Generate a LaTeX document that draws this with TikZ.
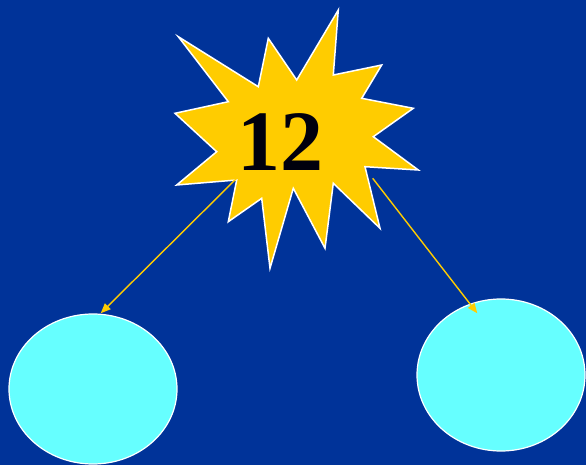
\documentclass[tikz,border=0pt]{standalone}
\usepackage{fontspec}
\setmainfont{Liberation Serif}
\usetikzlibrary{arrows.meta,shapes.geometric}
\definecolor{bgblue}{HTML}{003399}
\definecolor{staryellow}{HTML}{FFCC00}
\definecolor{cyanfill}{HTML}{66FFFF}
\tikzset{
  burst/.style={fill=staryellow,draw=white,line width=1.5pt,line join=miter},
  blob/.style={ellipse,fill=cyanfill,draw=white,line width=1.2pt,inner sep=0pt},
  link/.style={draw=staryellow,line width=1.4pt,-{Triangle[length=10pt,width=8pt]}}
}
\begin{document}
\begin{tikzpicture}[x=1pt,y=-1pt]
\useasboundingbox (0,0) rectangle (586,465);
\fill[bgblue] (0,0) rectangle (586,465);
\draw[burst] (338.3,10) -- (333.3,75) -- (381.7,65) -- (361.7,98.3) -- (413.3,108.3)
  -- (373.3,136.7) -- (418.3,170) -- (365,166.7) -- (380,228.3) -- (333.3,183.3)
  -- (325,248.3) -- (293.3,188.3) -- (270,268.3) -- (261.7,198.3) -- (228.3,221.7)
  -- (236.7,180) -- (176.7,185) -- (216.7,151.7) -- (175,113.3) -- (228.3,101.7)
  -- (178.3,36.7) -- (258.3,86.7) -- (268.3,38.3) -- (296.7,80) -- cycle;
\node[text=black!95!blue] (num) at (280.5,142) {\fontsize{86}{86}\selectfont\bfseries 12};
\node[blob,minimum width=168pt,minimum height=150pt] (left) at (93,389) {};
\node[blob,minimum width=168pt,minimum height=152pt] (right) at (501,375) {};
\coordinate (sl) at (236.7,178.3);
\coordinate (sr) at (372.7,178.3);
\coordinate (tl) at (100.7,313.3);
\coordinate (tr) at (477.3,313.3);
\draw[link] (sl) -- (tl);
\draw[link] (sr) -- (tr);
\end{tikzpicture}
\end{document}
